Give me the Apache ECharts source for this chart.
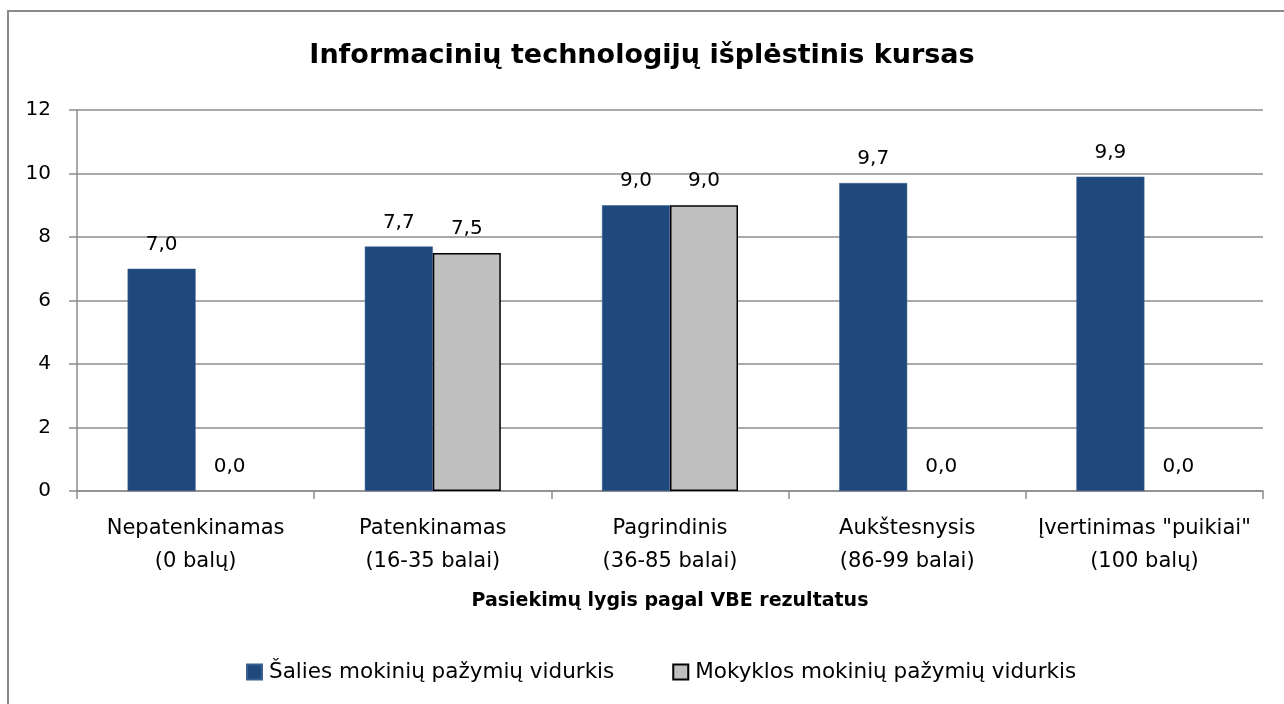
<!DOCTYPE html>
<html>
<head>
<meta charset="utf-8">
<script src="https://cdn.jsdelivr.net/npm/echarts@6/dist/echarts.min.js"></script>
<style>
html,body{margin:0;padding:0;background:#fff;}
#c{width:1284px;height:704px;}
</style>
</head>
<body>
<div id="c"></div>
<script>
const title = 'Informacinių technologijų išplėstinis kursas';
const categories = ['Nepatenkinamas\n(0 balų)', 'Patenkinamas\n(16-35 balai)', 'Pagrindinis\n(36-85 balai)', 'Aukštesnysis\n(86-99 balai)', 'Įvertinimas "puikiai"\n(100 balų)'];
const seriesNames = ['Šalies mokinių pažymių vidurkis', 'Mokyklos mokinių pažymių vidurkis'];
const countryValues = [7.0, 7.7, 9.0, 9.7, 9.9];
const schoolValues = [0.0, 7.5, 9.0, 0.0, 0.0];
const xAxisName = 'Pasiekimų lygis pagal VBE rezultatus';

const FONT = 'DejaVu Sans';
const chart = echarts.init(document.getElementById('c'), null, {renderer: 'canvas'});
const fmt = p => p.value.toFixed(1).replace('.', ',');
const schoolData = schoolValues.map(v => v === 0 ? {value: v, itemStyle: {borderWidth: 0}} : v);
chart.setOption({
  backgroundColor: '#fff',
  animation: false,
  textStyle: {fontFamily: FONT, color: '#000'},
  title: {
    text: title, left: 'center', top: 37,
    textStyle: {fontFamily: FONT, fontSize: 27, fontWeight: 'bold', color: '#000'}
  },
  graphic: [{
    type: 'polyline', shape: {points: [[8, 704], [8, 11], [1284, 11]]},
    style: {fill: 'none', stroke: '#8a8a8a', lineWidth: 2}, silent: true, z: 100
  }],
  legend: {
    left: 241, top: 656, itemWidth: 15, itemHeight: 15, itemGap: 58, icon: 'rect',
    textStyle: {fontFamily: FONT, fontSize: 21.5, color: '#000', padding: [0, 0, 0, 2]},
    data: seriesNames
  },
  grid: {left: 77, right: 21, top: 110, bottom: 213, containLabel: false},
  xAxis: {
    type: 'category', data: categories,
    name: xAxisName, nameLocation: 'middle', nameGap: 101,
    nameTextStyle: {fontFamily: FONT, fontSize: 19, fontWeight: 'bold', color: '#000'},
    axisLine: {lineStyle: {color: '#8c8c8c', width: 1.5}},
    axisTick: {show: true, length: 8, lineStyle: {color: '#8c8c8c', width: 1.5}},
    axisLabel: {fontFamily: FONT, fontSize: 21, color: '#000', margin: 21, lineHeight: 33, interval: 0}
  },
  yAxis: {
    type: 'value', min: 0, max: 12, interval: 2,
    axisLine: {show: true, lineStyle: {color: '#8c8c8c', width: 1.5}},
    axisTick: {show: true, length: 8, lineStyle: {color: '#8c8c8c', width: 1.5}},
    splitLine: {lineStyle: {color: '#8c8c8c', width: 1.5}},
    axisLabel: {fontFamily: FONT, fontSize: 20, color: '#000', margin: 26}
  },
  series: [
    {
      name: seriesNames[0], type: 'bar', data: countryValues,
      barWidth: 68, barGap: '0%',
      itemStyle: {color: '#1F497D', borderColor: '#3a5f8f', borderWidth: 0.5},
      label: {show: true, position: 'top', distance: 14, formatter: fmt, fontFamily: FONT, fontSize: 20, color: '#000'}
    },
    {
      name: seriesNames[1], type: 'bar', data: schoolData,
      barWidth: 68,
      itemStyle: {color: '#C0C0C0', borderColor: '#000', borderWidth: 1.5},
      label: {show: true, position: 'top', distance: 14, formatter: fmt, fontFamily: FONT, fontSize: 20, color: '#000'}
    }
  ]
});
</script>
</body>
</html>
